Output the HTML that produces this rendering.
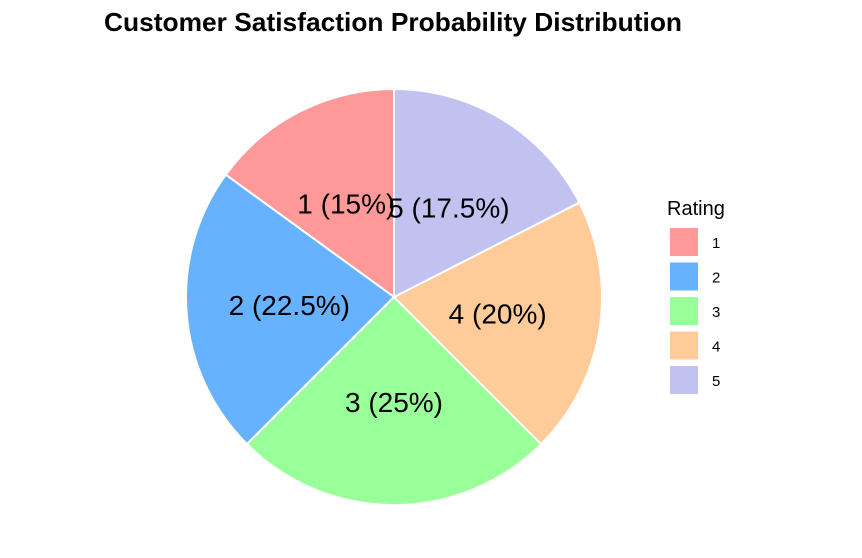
<!DOCTYPE html>
<html><head><meta charset="utf-8"><style>
body{margin:0;background:#fff;}
svg{font-family:"Liberation Sans",Arial,sans-serif;display:block;}
</style></head><body>
<svg width="862" height="558" viewBox="0 0 862 558" xmlns="http://www.w3.org/2000/svg">
<rect width="862" height="558" fill="#fff"/>
<text x="104" y="31" font-size="26" textLength="578" lengthAdjust="spacingAndGlyphs" font-weight="bold" fill="#000">Customer Satisfaction Probability Distribution</text>
<g id="slices"></g>
<g id="labels"></g>
<text x="667" y="215" font-size="20" fill="#000">Rating</text>
<g id="legend"></g>
</svg>
<script>
const categories = ["1","2","3","4","5"];
const values = [15, 22.5, 25, 20, 17.5];
const labels = ["1 (15%)","2 (22.5%)","3 (25%)","4 (20%)","5 (17.5%)"];
const colors = ["#FF9999","#66B2FF","#99FF99","#FFCC99","#C2C2F0"];
const NS = "http://www.w3.org/2000/svg";
const cx = 394, cy = 297, R = 208, LR = 105;
const total = values.reduce((a,b)=>a+b,0);
function pt(frac, r){
  const a = frac*2*Math.PI;
  return [cx - r*Math.sin(a), cy - r*Math.cos(a)];
}
const gs = document.getElementById('slices'), gl = document.getElementById('labels'), gg = document.getElementById('legend');
let cum = 0;
values.forEach((v,i)=>{
  const f0 = cum/total, f1 = (cum+v)/total;
  const p0 = pt(f0,R), p1 = pt(f1,R);
  const large = (f1-f0) > 0.5 ? 1 : 0;
  const p = document.createElementNS(NS,'path');
  p.setAttribute('d',`M${cx},${cy} L${p0[0]},${p0[1]} A${R},${R} 0 ${large} 0 ${p1[0]},${p1[1]} Z`);
  p.setAttribute('fill',colors[i]); p.setAttribute('stroke','#fff'); p.setAttribute('stroke-width','2');
  
  
  gs.appendChild(p);
  const lp = pt((f0+f1)/2, LR);
  const t = document.createElementNS(NS,'text');
  t.setAttribute('x',lp[0]); t.setAttribute('y',lp[1]+10);
  t.setAttribute('text-anchor','middle'); t.setAttribute('font-size','28');
  t.textContent = labels[i];
  
  
  gl.appendChild(t);
  cum += v;
  const r = document.createElementNS(NS,'rect');
  r.setAttribute('x',670); r.setAttribute('y',228+i*34.5); r.setAttribute('width',28); r.setAttribute('height',28);
  r.setAttribute('fill',colors[i]);
  
  
  gg.appendChild(r);
  const lt = document.createElementNS(NS,'text');
  lt.setAttribute('x',712); lt.setAttribute('y',248+i*34.5); lt.setAttribute('font-size','15');
  lt.textContent = categories[i];
  
  
  gg.appendChild(lt);
});
</script>
</body></html>
